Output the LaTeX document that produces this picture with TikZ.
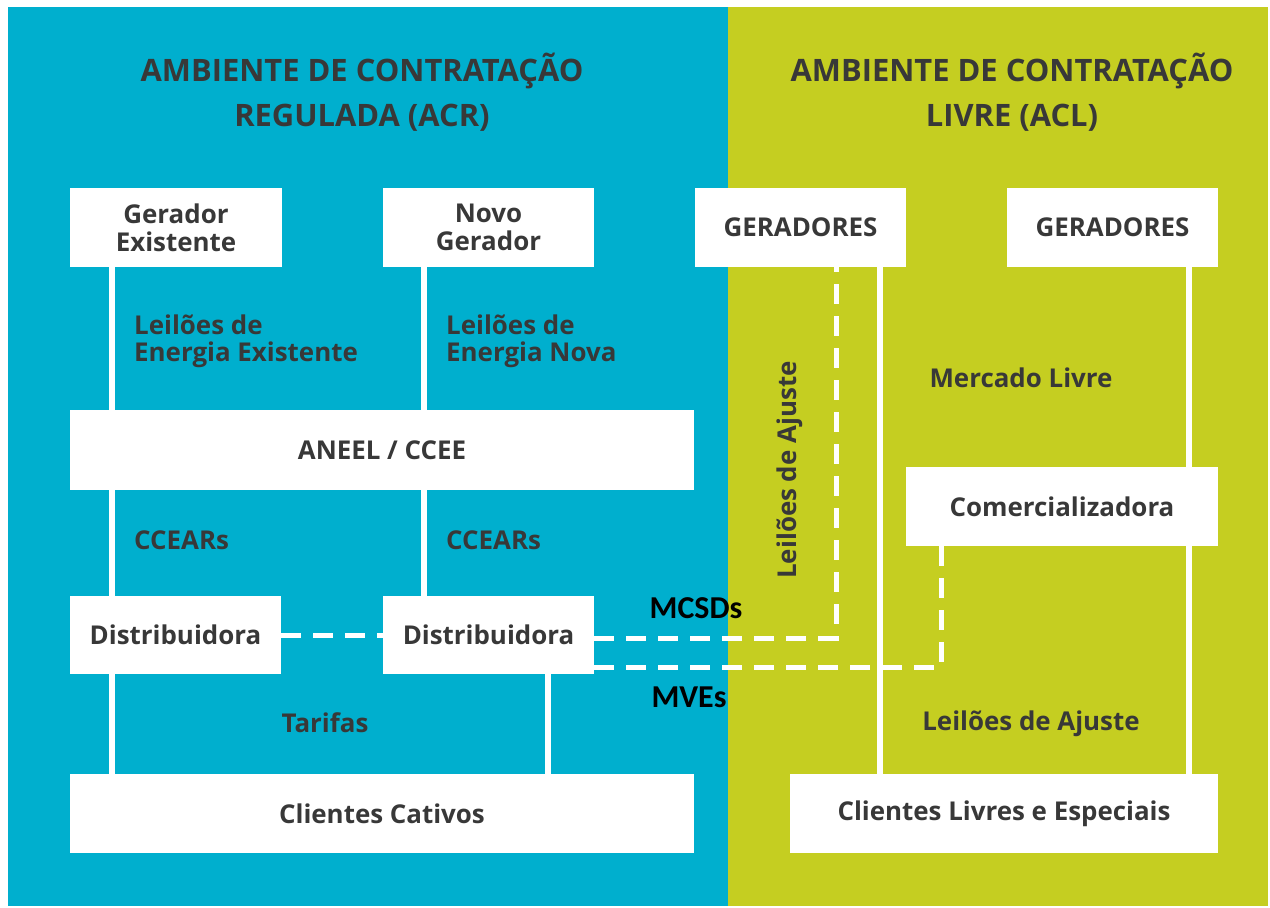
\documentclass[tikz,border=0pt]{standalone}
\usepackage{fontspec}
\setmainfont{Open Sans}
\newfontfamily\califont{Carlito}
\definecolor{acrblue}{HTML}{00AFCE}
\definecolor{aclgreen}{HTML}{C5CE21}
\definecolor{txtgray}{HTML}{383838}
\begin{document}
\begin{tikzpicture}[x=1bp,y=-1bp,
  box/.style={draw=none,fill=white,inner sep=0pt,align=center,text=txtgray,
    font=\bfseries\fontsize{26}{28}\selectfont},
  lbl/.style={inner sep=0pt,text=txtgray,align=left,font=\bfseries\fontsize{26}{27}\selectfont},
  ttl/.style={inner sep=0pt,text=txtgray,align=center,font=\bfseries\fontsize{31}{45}\selectfont},
  blk/.style={inner sep=0pt,text=black,font=\califont\bfseries\fontsize{32}{34}\selectfont},
  wline/.style={draw=white,line width=6bp},
  dline/.style={draw=white,line width=5bp,dash pattern=on 20bp off 12bp}]
\useasboundingbox (0,0) rectangle (1270,908);
\fill[white] (0,0) rectangle (1270,908);
\fill[acrblue] (8,7) rectangle (728,906);
\fill[aclgreen] (728,7) rectangle (1268,906);
% titles
\node[ttl] (t1) at (362,92) {AMBIENTE DE CONTRATAÇÃO\\REGULADA (ACR)};
\node[ttl] (t2) at (1012,92) {AMBIENTE DE CONTRATAÇÃO\\LIVRE (ACL)};
% boxes
\node[box,minimum width=212bp,minimum height=79bp] (ge) at (176,227.5) {Gerador\\Existente};
\node[box,minimum width=211bp,minimum height=79bp] (ng) at (488.5,227.5) {Novo\\Gerador};
\node[box,minimum width=211bp,minimum height=79bp] (g1) at (800.5,227.5) {GERADORES};
\node[box,minimum width=211bp,minimum height=79bp] (g2) at (1112.5,227.5) {GERADORES};
\node[box,minimum width=624bp,minimum height=80bp] (an) at (382,450) {ANEEL / CCEE};
\node[box,minimum width=312bp,minimum height=79bp] (co) at (1062,506.5) {Comercializadora};
\node[box,minimum width=211bp,minimum height=78bp] (d1) at (175.5,635) {Distribuidora};
\node[box,minimum width=211bp,minimum height=78bp] (d2) at (488.5,635) {Distribuidora};
\node[box,minimum width=624bp,minimum height=79bp] (cc) at (382,813.5) {Clientes Cativos};
\node[box,minimum width=428bp,minimum height=79bp] (cl) at (1004,813.5) {Clientes Livres e Especiais};
% x positions of the connectors
\coordinate (xa) at (112,0);
\coordinate (xb) at (424,0);
\coordinate (xc) at (548,0);
\coordinate (xd) at (880,0);
\coordinate (xe) at (1189,0);
\coordinate (xf) at (836,0);
\coordinate (xg) at (941,0);
% solid connectors
\draw[wline] (ge.south -| xa) -- (an.north -| xa);
\draw[wline] (an.south -| xa) -- (d1.north -| xa);
\draw[wline] (d1.south -| xa) -- (cc.north -| xa);
\draw[wline] (ng.south -| xb) -- (an.north -| xb);
\draw[wline] (an.south -| xb) -- (d2.north -| xb);
\draw[wline] (d2.south -| xc) -- (cc.north -| xc);
\draw[wline] (g1.south -| xd) -- (cl.north -| xd);
\draw[wline] (g2.south -| xe) -- (co.north -| xe);
\draw[wline] (co.south -| xe) -- (cl.north -| xe);
% dashed connectors
\draw[dline] (d1.east) -- (d2.west);
\draw[dline] ([yshift=-3bp]d2.east) -| (g1.south -| xf);
\draw[dline] ([yshift=-32bp]d2.east) -| (co.south -| xg);
% labels
\node[lbl,anchor=west] (l1) at (134,341) {Leilões de\\Energia Existente};
\node[lbl,anchor=west] (l2) at (446,341) {Leilões de\\Energia Nova};
\node[lbl,anchor=west] (l3) at (134,540) {CCEARs};
\node[lbl,anchor=west] (l4) at (446,540) {CCEARs};
\node[lbl] (l5) at (325,723) {Tarifas};
\node[lbl] (l6) at (1021,378) {Mercado Livre};
\node[lbl,rotate=90] (l7) at (790,470) {Leilões de Ajuste};
\node[lbl] (l8) at (1031,724) {Leilões de Ajuste};
\node[blk] (m1) at (696,608) {MCSDs};
\node[blk] (m2) at (689,697) {MVEs};
\end{tikzpicture}
\end{document}
